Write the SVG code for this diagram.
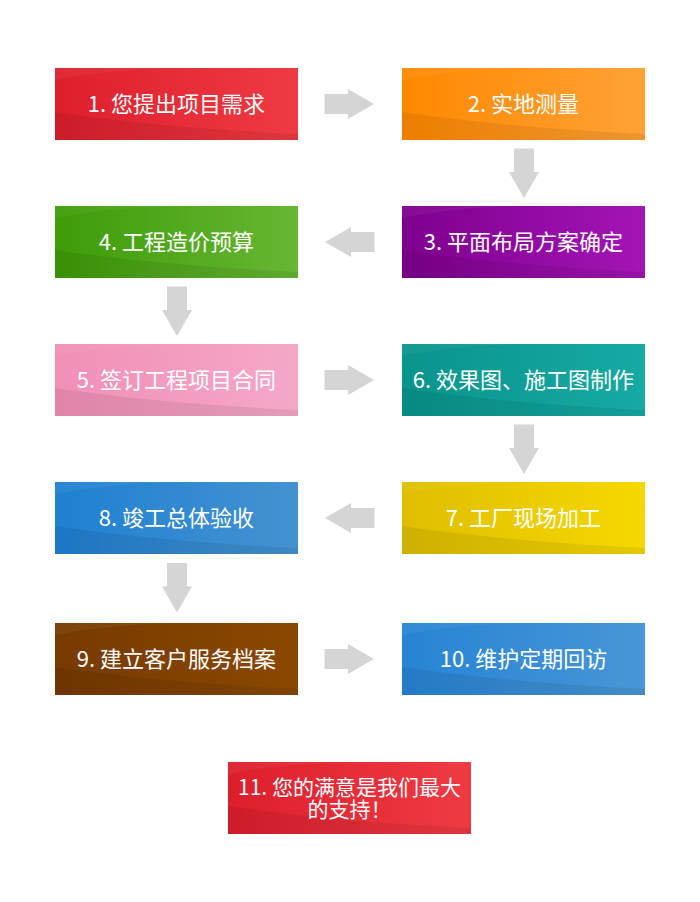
<svg xmlns="http://www.w3.org/2000/svg" xmlns:xlink="http://www.w3.org/1999/xlink" width="700" height="902" viewBox="0 0 700 902">
  <style>
    .lbl { font-family: "Noto Sans CJK SC", "Microsoft YaHei", "Noto Sans", sans-serif; font-size: 22px; fill: #ffffff; text-anchor: middle; }
    .lbl11 { font-size: 21px; }
    .arrow { fill: #d5d5d5; }
    .shade { fill: #000000; opacity: 0.07; }
    .hi { fill: #ffffff; opacity: 0.05; }
  </style>
  <defs>
    <path id="arr" d="M-25,-10 H-1.5 V-15 L24.5,0 L-1.5,15 V10 H-25 Z"/>
    <path id="shadeP" d="M0,44 Q110,60 243,66 V72 H0 Z"/>
    <path id="hiP" d="M0,12 Q60,0 140,0 H0 Z"/>
    <linearGradient id="gRed" x1="0" y1="0" x2="1" y2="0"><stop offset="0" stop-color="#dd1f2c"/><stop offset="1" stop-color="#ef3a44"/></linearGradient>
    <linearGradient id="gOrange" x1="0" y1="0" x2="1" y2="0"><stop offset="0" stop-color="#ff8800"/><stop offset="1" stop-color="#ffa236"/></linearGradient>
    <linearGradient id="gPurple" x1="0" y1="0" x2="1" y2="0"><stop offset="0" stop-color="#7e008e"/><stop offset="1" stop-color="#a414b6"/></linearGradient>
    <linearGradient id="gGreen" x1="0" y1="0" x2="1" y2="0"><stop offset="0" stop-color="#3d9c08"/><stop offset="1" stop-color="#68b634"/></linearGradient>
    <linearGradient id="gPink" x1="0" y1="0" x2="1" y2="0"><stop offset="0" stop-color="#f18fb7"/><stop offset="1" stop-color="#f5a8c8"/></linearGradient>
    <linearGradient id="gTeal" x1="0" y1="0" x2="1" y2="0"><stop offset="0" stop-color="#09948c"/><stop offset="1" stop-color="#16aaa4"/></linearGradient>
    <linearGradient id="gYellow" x1="0" y1="0" x2="1" y2="0"><stop offset="0" stop-color="#dfbe00"/><stop offset="1" stop-color="#f6d800"/></linearGradient>
    <linearGradient id="gBlue" x1="0" y1="0" x2="1" y2="0"><stop offset="0" stop-color="#1f80d2"/><stop offset="1" stop-color="#4592d0"/></linearGradient>
    <linearGradient id="gBrown" x1="0" y1="0" x2="1" y2="0"><stop offset="0" stop-color="#773a00"/><stop offset="1" stop-color="#8a4800"/></linearGradient>
    <linearGradient id="gBlue2" x1="0" y1="0" x2="1" y2="0"><stop offset="0" stop-color="#2784d4"/><stop offset="1" stop-color="#4896d6"/></linearGradient>
  </defs>

  <rect x="0" y="0" width="700" height="902" fill="#ffffff"/>

  <g id="node1" transform="translate(55,68)">
    <rect width="243" height="72" fill="url(#gRed)"/>
    <use xlink:href="#shadeP" class="shade"/><use xlink:href="#hiP" class="hi"/>
    <text class="lbl" x="121.5" y="44">1. 您提出项目需求</text>
  </g>
  <g id="node2" transform="translate(402,68)">
    <rect width="243" height="72" fill="url(#gOrange)"/>
    <use xlink:href="#shadeP" class="shade"/><use xlink:href="#hiP" class="hi"/>
    <text class="lbl" x="121.5" y="44">2. 实地测量</text>
  </g>
  <g id="node3" transform="translate(402,206)">
    <rect width="243" height="72" fill="url(#gPurple)"/>
    <use xlink:href="#shadeP" class="shade"/><use xlink:href="#hiP" class="hi"/>
    <text class="lbl" x="121.5" y="44">3. 平面布局方案确定</text>
  </g>
  <g id="node4" transform="translate(55,206)">
    <rect width="243" height="72" fill="url(#gGreen)"/>
    <use xlink:href="#shadeP" class="shade"/><use xlink:href="#hiP" class="hi"/>
    <text class="lbl" x="121.5" y="44">4. 工程造价预算</text>
  </g>
  <g id="node5" transform="translate(55,344)">
    <rect width="243" height="72" fill="url(#gPink)"/>
    <use xlink:href="#shadeP" class="shade"/><use xlink:href="#hiP" class="hi"/>
    <text class="lbl" x="121.5" y="44">5. 签订工程项目合同</text>
  </g>
  <g id="node6" transform="translate(402,344)">
    <rect width="243" height="72" fill="url(#gTeal)"/>
    <use xlink:href="#shadeP" class="shade"/><use xlink:href="#hiP" class="hi"/>
    <text class="lbl" x="121.5" y="44">6. 效果图、施工图制作</text>
  </g>
  <g id="node7" transform="translate(402,482)">
    <rect width="243" height="72" fill="url(#gYellow)"/>
    <use xlink:href="#shadeP" class="shade"/><use xlink:href="#hiP" class="hi"/>
    <text class="lbl" x="121.5" y="44">7. 工厂现场加工</text>
  </g>
  <g id="node8" transform="translate(55,482)">
    <rect width="243" height="72" fill="url(#gBlue)"/>
    <use xlink:href="#shadeP" class="shade"/><use xlink:href="#hiP" class="hi"/>
    <text class="lbl" x="121.5" y="44">8. 竣工总体验收</text>
  </g>
  <g id="node9" transform="translate(55,623)">
    <rect width="243" height="72" fill="url(#gBrown)"/>
    <use xlink:href="#shadeP" class="shade"/><use xlink:href="#hiP" class="hi"/>
    <text class="lbl" x="121.5" y="44">9. 建立客户服务档案</text>
  </g>
  <g id="node10" transform="translate(402,623)">
    <rect width="243" height="72" fill="url(#gBlue2)"/>
    <use xlink:href="#shadeP" class="shade"/><use xlink:href="#hiP" class="hi"/>
    <text class="lbl" x="121.5" y="44">10. 维护定期回访</text>
  </g>
  <g id="node11" transform="translate(228,762)">
    <rect width="243" height="72" fill="url(#gRed)"/>
    <use xlink:href="#shadeP" class="shade"/><use xlink:href="#hiP" class="hi"/>
    <text class="lbl lbl11"><tspan x="121.5" y="33">11. 您的满意是我们最大</tspan><tspan x="121.5" y="55">的支持！</tspan></text>
  </g>

  <g id="connectors" class="arrow">
    <use xlink:href="#arr" transform="translate(349.5,104)"/>
    <use xlink:href="#arr" transform="translate(524,173.5) rotate(90)"/>
    <use xlink:href="#arr" transform="translate(349.5,242) rotate(180)"/>
    <use xlink:href="#arr" transform="translate(177,311.5) rotate(90)"/>
    <use xlink:href="#arr" transform="translate(349.5,380)"/>
    <use xlink:href="#arr" transform="translate(524,449.5) rotate(90)"/>
    <use xlink:href="#arr" transform="translate(349.5,518) rotate(180)"/>
    <use xlink:href="#arr" transform="translate(177,588) rotate(90)"/>
    <use xlink:href="#arr" transform="translate(349.5,659)"/>
  </g>
</svg>
